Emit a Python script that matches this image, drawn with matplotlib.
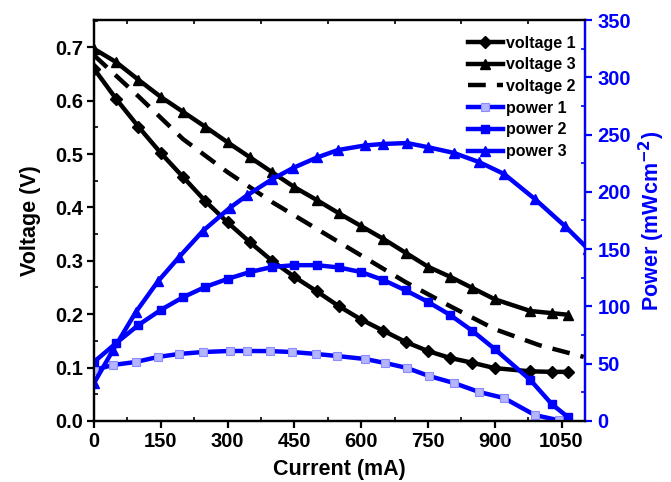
import matplotlib
matplotlib.use("Agg")
import matplotlib.pyplot as plt
import matplotlib.ticker as mticker
import numpy as np

plt.rcParams["font.family"] = ["Liberation Sans", "DejaVu Sans"]
plt.rcParams["font.weight"] = "bold"

# ── Data ───────────────────────────────────────────────────────
# voltage 1, voltage 3 and power 2 share one current grid
I_A = [0, 50, 100, 150, 200, 250, 300, 350, 400, 450, 500, 550, 600,
       650, 700, 750, 800, 850, 900, 980, 1028, 1064]
V1 = [0.660, 0.603, 0.551, 0.502, 0.457, 0.412, 0.372, 0.335, 0.300, 0.270,
      0.243, 0.215, 0.190, 0.169, 0.148, 0.131, 0.118, 0.109, 0.099, 0.093,
      0.092, 0.092]
V3 = [0.697, 0.672, 0.639, 0.607, 0.579, 0.551, 0.522, 0.494, 0.466, 0.438,
      0.414, 0.389, 0.365, 0.341, 0.315, 0.289, 0.270, 0.249, 0.228, 0.206,
      0.202, 0.199]
P2 = [51.5, 68.0, 83.8, 96.9, 108.0, 117.0, 124.0, 130.0, 134.4, 136.0,
      136.0, 134.0, 130.0, 123.0, 114.0, 104.0, 92.5, 78.6, 62.8, 35.8,
      14.8, 3.5]

# voltage 2 (dashed, no markers)
I_V2 = [0, 100, 200, 300, 400, 500, 600, 700, 800, 900, 1000, 1100]
V2 = [0.685, 0.608, 0.528, 0.466, 0.410, 0.360, 0.310, 0.260, 0.215, 0.172,
      0.142, 0.120]

# power 1 and power 3 grid
I_P1 = [0, 43, 94, 144, 191, 245, 305, 343, 395, 445, 499, 546, 609, 654,
        703, 752, 808, 865, 921, 990, 1045]
P1 = [44.5, 48.9, 51.5, 55.9, 58.5, 60.2, 61.1, 61.1, 61.0, 60.2, 58.5,
      56.7, 54.1, 50.6, 46.3, 39.3, 33.2, 25.3, 20.0, 5.2, 0.5]
I_P3 = [0, 43, 94, 144, 191, 245, 305, 344, 400, 448, 501, 548, 609, 649,
        703, 750, 808, 865, 921, 990, 1058, 1110]
P3 = [33.0, 62.0, 95.0, 122.0, 143.0, 166.0, 186.0, 197.0, 211.0, 221.0,
      230.0, 236.5, 240.5, 241.8, 242.6, 239.0, 234.0, 226.0, 215.6, 193.8,
      170.0, 150.0]

BLUE = "#0000FF"

fig = plt.figure(figsize=(6.71, 4.82), dpi=100)
ax = fig.add_axes([0.140, 0.1266, 0.732, 0.8319])
ax2 = ax.twinx()

lw = 3.2
h1, = ax.plot(I_A, V1, color="black", lw=lw, marker="D", ms=6, label="voltage 1")
h3, = ax.plot(I_A, V3, color="black", lw=lw, marker="^", ms=7, label="voltage 3")
h2, = ax.plot(I_V2, V2, color="black", lw=lw, ls=(0, (4, 2.5)), label="voltage 2")

p1, = ax2.plot(I_P1, P1, color=BLUE, lw=lw, marker="s", ms=5.5, mfc="#b4b4ff",
               mec="#8c8cff", mew=0.8, label="power 1")
p2, = ax2.plot(I_A, P2, color=BLUE, lw=lw, marker="s", ms=6, label="power 2")
p3, = ax2.plot(I_P3, P3, color=BLUE, lw=lw, marker="^", ms=7, label="power 3")

ax.set_xlim(0, 1103)
ax.set_ylim(0, 0.751)
ax2.set_ylim(0, 350)

ax.xaxis.set_major_locator(mticker.MultipleLocator(150))
ax.xaxis.set_minor_locator(mticker.MultipleLocator(75))
ax.yaxis.set_major_locator(mticker.MultipleLocator(0.1))
ax.yaxis.set_minor_locator(mticker.MultipleLocator(0.05))
ax.yaxis.set_major_formatter(mticker.FormatStrFormatter("%.1f"))
ax2.yaxis.set_major_locator(mticker.MultipleLocator(50))
ax2.yaxis.set_minor_locator(mticker.MultipleLocator(25))

for s in ax.spines.values():
    s.set_linewidth(1.6)
for s in ax2.spines.values():
    s.set_linewidth(1.6)
ax2.spines["right"].set_color(BLUE)

ax.tick_params(axis="both", which="major", direction="out", length=5, width=1.6,
               labelsize=14.5, pad=3)
ax.tick_params(axis="both", which="minor", direction="in", length=3, width=1.2)
ax.tick_params(axis="x", which="both", top=True, labeltop=False)
ax.tick_params(axis="x", which="major", top=False)
ax2.tick_params(axis="y", which="major", direction="out", length=5, width=1.6,
                colors=BLUE, labelsize=14.5, pad=4)
ax2.tick_params(axis="y", which="minor", direction="in", length=3, width=1.2,
                colors=BLUE)

ax.set_xlabel("Current (mA)", fontsize=15.5, fontweight="bold", labelpad=6)
ax.set_ylabel("Voltage (V)", fontsize=15.5, fontweight="bold", labelpad=10)
ax2.set_ylabel("Power (mWcm$^{\\mathbf{-2}}$)", fontsize=15.5, fontweight="bold",
               color=BLUE, labelpad=4)

ax.legend(handles=[h1, h3, h2, p1, p2, p3], loc="upper right",
          bbox_to_anchor=(1.0, 0.985), frameon=False, fontsize=11.5,
          handlelength=2.2, handletextpad=0.2, labelspacing=0.42,
          borderaxespad=0.2)

fig.savefig("out.png", dpi=100)
